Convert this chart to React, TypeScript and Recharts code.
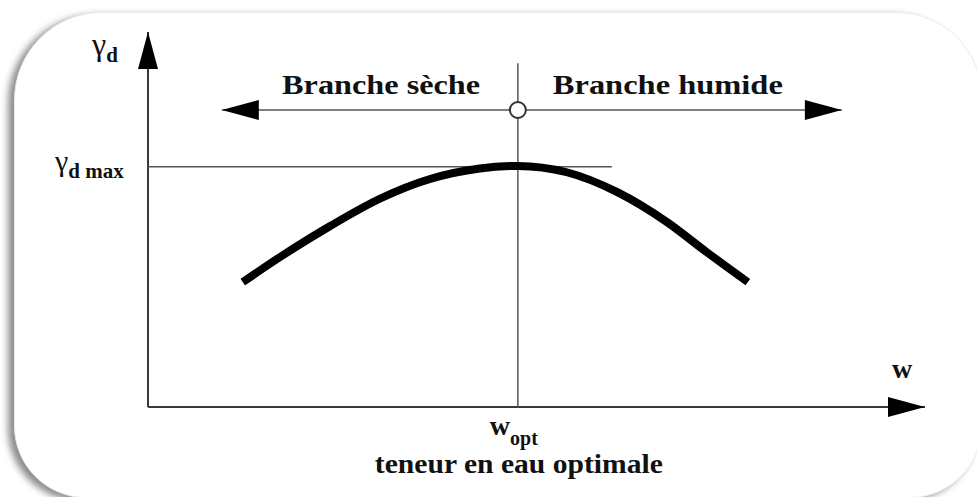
import React from 'react';
import { LineChart, Line, XAxis, YAxis, ReferenceLine, ReferenceDot } from 'recharts';

// compaction curve (Proctor), arbitrary units 0..100
const waterContent = [12.2, 17.0, 23.4, 29.9, 36.3, 42.7, 47.6, 53.9, 60.4, 66.8, 71.9, 77.2];
const dryDensity = [33.3, 40.0, 48.2, 55.6, 60.8, 63.6, 64.3, 62.6, 57.3, 49.3, 41.3, 33.3];

const W_OPT = 47.6;
const GD_MAX = 64.1;
const BRANCH_Y = 79.2;
const BRANCH_RANGE = [9.5, 89.3];
const OPT_LINE_TOP = 91.7;
const GD_LINE_END = 59.7;

const branchLabels = [
  { text: 'Branche sèche', x: 30.0, width: 198 },
  { text: 'Branche humide', x: 66.9, width: 230 },
];

const curveData = waterContent.map((w, i) => ({ w, gd: dryDensity[i] }));

const FONT = 'Liberation Serif, Times New Roman, serif';
const AXIS_COLOR = '#3a3a3a';
const THIN_COLOR = '#555';

const txt = { fontFamily: FONT } as React.CSSProperties;

const Arrowhead = ({ cx, cy, dir }: any) => {
  const L = 37;
  const H = 10;
  let pts = '';
  if (dir === 'right') pts = `${cx},${cy} ${cx - L},${cy - H} ${cx - L},${cy + H}`;
  if (dir === 'left') pts = `${cx},${cy} ${cx + L},${cy - H} ${cx + L},${cy + H}`;
  if (dir === 'up') pts = `${cx},${cy} ${cx - H},${cy + L} ${cx + H},${cy + L}`;
  return <polygon points={pts} fill="#000" />;
};

export default function App() {
  return (
    <div style={{ position: 'absolute', left: 0, top: 0, width: 977, height: 497, overflow: 'hidden', background: '#fff' }}>
      <div
        style={{
          position: 'absolute',
          left: 14,
          top: 12,
          width: 966,
          height: 484,
          borderRadius: '88px 85px 72px 72px',
          border: '1px solid #ececec',
          boxShadow: '-6px 3px 7px rgba(0,0,0,0.45)',
          background: '#fff',
        }}
      />
      <div style={{ position: 'absolute', left: 0, top: 0 }}>
        <LineChart width={977} height={497} data={curveData} margin={{ top: 32, right: 52, bottom: 90, left: 148 }}>
          <XAxis type="number" dataKey="w" domain={[0, 100]} hide />
          <YAxis type="number" domain={[0, 100]} hide />

          {/* axes */}
          <ReferenceLine y={0} stroke={AXIS_COLOR} strokeWidth={2} ifOverflow="visible" />
          <ReferenceLine x={0} stroke={AXIS_COLOR} strokeWidth={2} ifOverflow="visible" />

          {/* w_opt vertical and gamma_d max horizontal */}
          <ReferenceLine
            segment={[{ x: W_OPT, y: 0 }, { x: W_OPT, y: OPT_LINE_TOP }]}
            stroke={THIN_COLOR}
            strokeWidth={1.5}
            ifOverflow="visible"
          />
          <ReferenceLine
            segment={[{ x: 0, y: GD_MAX }, { x: GD_LINE_END, y: GD_MAX }]}
            stroke={THIN_COLOR}
            strokeWidth={1.5}
            ifOverflow="visible"
          />
          {/* double arrow: branches */}
          <ReferenceLine
            segment={[{ x: BRANCH_RANGE[0], y: BRANCH_Y }, { x: BRANCH_RANGE[1], y: BRANCH_Y }]}
            stroke={THIN_COLOR}
            strokeWidth={1.5}
            ifOverflow="visible"
          />

          <Line
            type="monotone"
            dataKey="gd"
            stroke="#000"
            strokeWidth={8}
            strokeLinecap="butt"
            dot={false}
            activeDot={false}
            isAnimationActive={false}
          />

          {/* arrowheads */}
          <ReferenceDot x={BRANCH_RANGE[0]} y={BRANCH_Y} ifOverflow="visible" shape={(p: any) => <Arrowhead {...p} dir="left" />} />
          <ReferenceDot x={BRANCH_RANGE[1]} y={BRANCH_Y} ifOverflow="visible" shape={(p: any) => <Arrowhead {...p} dir="right" />} />
          <ReferenceDot x={100} y={0} ifOverflow="visible" shape={(p: any) => <Arrowhead {...p} dir="right" />} />
          <ReferenceDot x={0} y={100} ifOverflow="visible" shape={(p: any) => <Arrowhead {...p} dir="up" />} />

          <ReferenceDot x={W_OPT} y={BRANCH_Y} r={8} fill="#fff" stroke="#333" strokeWidth={2} ifOverflow="visible" />

          {branchLabels.map((b) => (
            <ReferenceDot
              key={b.text}
              x={b.x}
              y={BRANCH_Y}
              ifOverflow="visible"
              shape={(p: any) => (
                <text
                  x={p.cx}
                  y={p.cy - 16}
                  textAnchor="middle"
                  style={txt}
                  fontWeight="bold"
                  fontSize={28}
                  fill="#111"
                  textLength={b.width}
                  lengthAdjust="spacingAndGlyphs"
                >
                  {b.text}
                </text>
              )}
            />
          ))}

          {/* axis titles */}
          <ReferenceDot
            x={100}
            y={0}
            ifOverflow="visible"
            shape={(p: any) => (
              <text x={p.cx - 23} y={p.cy - 29} textAnchor="middle" style={txt} fontWeight="bold" fontSize={28} fill="#111">
                w
              </text>
            )}
          />
          <ReferenceDot
            x={0}
            y={100}
            ifOverflow="visible"
            shape={(p: any) => (
              <text x={p.cx - 56} y={p.cy + 23} style={txt} fontSize={32} fill="#111">
                γ
                <tspan fontSize={21} fontWeight="bold" dy={7}>d</tspan>
              </text>
            )}
          />
          <ReferenceDot
            x={0}
            y={GD_MAX}
            ifOverflow="visible"
            shape={(p: any) => (
              <text x={p.cx - 93} y={p.cy + 4} style={txt} fontSize={30} fill="#111">
                γ
                <tspan fontSize={21} fontWeight="bold" dy={7}>d max</tspan>
              </text>
            )}
          />
          <ReferenceDot
            x={W_OPT}
            y={0}
            ifOverflow="visible"
            shape={(p: any) => (
              <g>
                <text x={p.cx - 28} y={p.cy + 28} style={txt} fontWeight="bold" fontSize={28} fill="#111">
                  w
                  <tspan fontSize={20} dy={10}>opt</tspan>
                </text>
                <text
                  x={p.cx + 1}
                  y={p.cy + 66}
                  textAnchor="middle"
                  style={txt}
                  fontWeight="bold"
                  fontSize={28}
                  fill="#111"
                  textLength={288}
                  lengthAdjust="spacingAndGlyphs"
                >
                  teneur en eau optimale
                </text>
              </g>
            )}
          />
        </LineChart>
      </div>
    </div>
  );
}
